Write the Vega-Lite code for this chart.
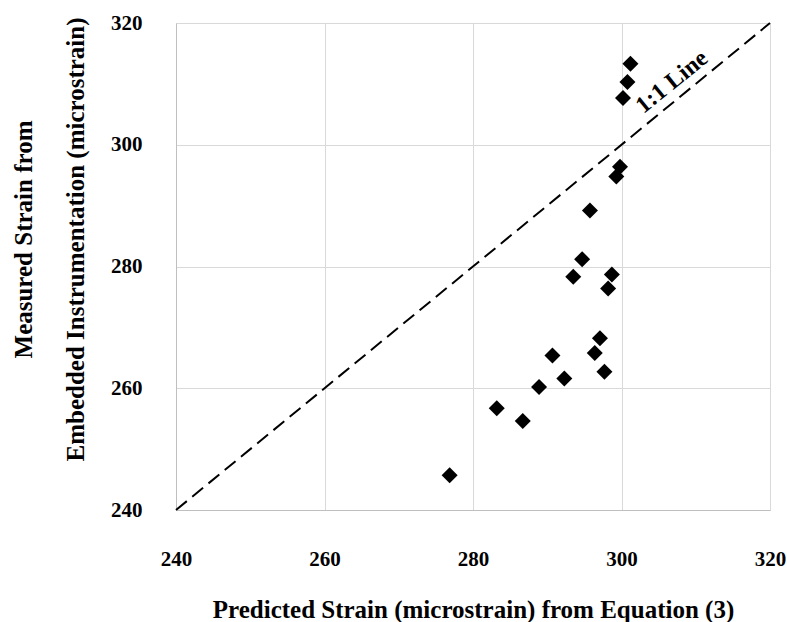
{
  "$schema": "https://vega.github.io/schema/vega-lite/v6.json",
  "width": 594,
  "height": 487,
  "autosize": {"type": "none"},
  "padding": {"left": 176, "top": 23, "right": 17, "bottom": 112},
  "background": "white",
  "config": {
    "view": {"stroke": null},
    "font": "Liberation Serif",
    "axis": {
      "labelFont": "Liberation Serif",
      "labelFontSize": 21,
      "labelFontWeight": "bold",
      "labelColor": "black",
      "labelFlush": false,
      "titleFont": "Liberation Serif",
      "titleFontSize": 25,
      "titleFontWeight": "bold",
      "titleColor": "black",
      "gridColor": "#d9d9d9",
      "gridWidth": 1,
      "domainColor": "#bfbfbf",
      "domainWidth": 1,
      "ticks": false
    }
  },
  "layer": [
    {
      "data": {"values": [{"px": 240, "my": 240}, {"px": 320, "my": 320}]},
      "mark": {"type": "line", "color": "black", "strokeDash": [14, 7], "strokeWidth": 2},
      "encoding": {
        "x": {"field": "px", "type": "quantitative", "scale": {"domain": [240, 320], "nice": false, "zero": false}},
        "y": {"field": "my", "type": "quantitative", "scale": {"domain": [240, 320], "nice": false, "zero": false}}
      }
    },
    {
      "data": {"values": [
        {"px": 276.85, "my": 245.7},
        {"px": 283.2, "my": 256.7},
        {"px": 286.7, "my": 254.6},
        {"px": 288.9, "my": 260.2},
        {"px": 290.7, "my": 265.4},
        {"px": 292.3, "my": 261.6},
        {"px": 297.1, "my": 268.2},
        {"px": 296.4, "my": 265.8},
        {"px": 297.7, "my": 262.7},
        {"px": 295.75, "my": 289.2},
        {"px": 294.7, "my": 281.2},
        {"px": 293.5, "my": 278.3},
        {"px": 298.7, "my": 278.7},
        {"px": 298.2, "my": 276.4},
        {"px": 301.2, "my": 313.3},
        {"px": 300.8, "my": 310.3},
        {"px": 300.2, "my": 307.7},
        {"px": 299.8, "my": 296.4},
        {"px": 299.3, "my": 294.8}
      ]},
      "mark": {"type": "point", "shape": "diamond", "filled": true, "color": "black", "opacity": 1, "size": 256},
      "encoding": {
        "x": {
          "field": "px", "type": "quantitative",
          "scale": {"domain": [240, 320], "nice": false, "zero": false},
          "axis": {"values": [240, 260, 280, 300, 320], "labelPadding": 38, "titlePadding": 28, "title": "Predicted Strain (microstrain) from Equation (3)"}
        },
        "y": {
          "field": "my", "type": "quantitative",
          "scale": {"domain": [240, 320], "nice": false, "zero": false},
          "axis": {"values": [240, 260, 280, 300, 320], "labelPadding": 34, "titlePadding": 22, "titleLineHeight": 52, "titleY": 216, "title": ["Measured Strain from", "Embedded Instrumentation  (microstrain)"]}
        }
      }
    },
    {
      "data": {"values": [{"px": 306.8, "my": 310.3, "label": "1:1 Line"}]},
      "mark": {"type": "text", "angle": 321, "fontSize": 24, "fontWeight": "bold", "font": "Liberation Serif", "color": "black", "align": "center", "baseline": "middle"},
      "encoding": {
        "x": {"field": "px", "type": "quantitative", "scale": {"domain": [240, 320], "nice": false, "zero": false}},
        "y": {"field": "my", "type": "quantitative", "scale": {"domain": [240, 320], "nice": false, "zero": false}},
        "text": {"field": "label"}
      }
    }
  ]
}
